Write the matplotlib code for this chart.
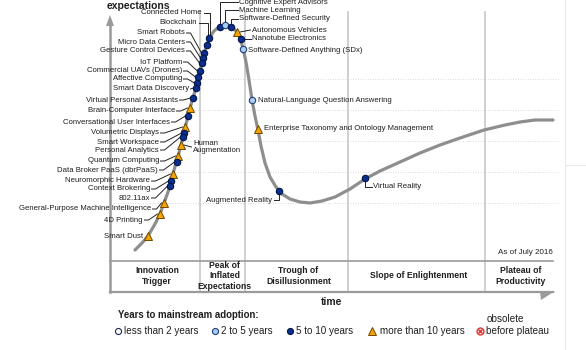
import matplotlib.pyplot as plt
from matplotlib.patches import Polygon

plt.rcParams['font.family'] = ['Liberation Sans', 'DejaVu Sans']

# Hype curve (pixel units, y grows downward)
curve_x = [135, 142, 148, 155, 160, 164, 168, 171, 174, 177, 180, 183, 186, 189,
           192, 195, 198, 201, 204, 207, 210, 214, 219, 225, 231, 236, 240, 243,
           246, 249, 252, 255, 258, 261, 265, 270, 276, 282, 290, 300, 310, 322,
           335, 350, 365, 380, 400, 420, 440, 460, 484, 505, 520, 535, 553]
curve_y = [250, 243, 236, 224, 214, 203, 192, 182, 170, 160, 149, 137, 124, 112,
           101, 91, 79, 67, 54, 44, 37, 31, 27, 25, 26, 31, 38, 48,
           62, 80, 100, 116, 130, 146, 163, 177, 187, 194, 199, 202, 203, 201,
           197, 189, 179, 171, 162, 153, 145, 138, 130, 125, 122, 120, 120]

# Technologies on the curve: name, years to mainstream adoption, position
tech_names = [
    'Connected Home', 'Blockchain', 'Smart Robots', 'Micro Data Centers',
    'Gesture Control Devices', 'IoT Platform', 'Commercial UAVs (Drones)',
    'Affective Computing', 'Smart Data Discovery', 'Virtual Personal Assistants',
    'Brain-Computer Interface', 'Conversational User Interfaces',
    'Volumetric Displays', 'Smart Workspace', 'Personal Analytics',
    'Human\nAugmentation', 'Quantum Computing', 'Data Broker PaaS (dbrPaaS)',
    'Neuromorphic Hardware', 'Context Brokering', '802.11ax',
    'General-Purpose Machine Intelligence', '4D Printing', 'Smart Dust',
    'Cognitive Expert Advisors', 'Machine Learning', 'Software-Defined Security',
    'Autonomous Vehicles', 'Nanotube Electronics', 'Software-Defined Anything (SDx)',
    'Natural-Language Question Answering',
    'Enterprise Taxonomy and Ontology Management', 'Augmented Reality',
    'Virtual Reality',
]
tech_class = [
    '5to10', '5to10', '5to10', '5to10', '5to10', '5to10', '5to10', '5to10',
    '5to10', '5to10', 'gt10', '5to10', 'gt10', '5to10', '5to10', 'gt10',
    'gt10', '5to10', 'gt10', '5to10', '5to10', 'gt10', 'gt10', 'gt10',
    '5to10', '2to5', '5to10', 'gt10', '5to10', '2to5', '2to5', 'gt10',
    '5to10', '5to10',
]
tech_x = [209, 207, 204, 203, 202, 200, 198, 197, 196, 193, 190, 188, 185, 184,
          183, 181, 178, 177, 173, 171, 170, 164, 160, 148, 220, 225, 231, 237,
          241, 243, 252, 258, 279, 365]
tech_y = [38, 45, 53, 58, 63, 71, 77, 83, 88, 98, 108, 116, 127, 133, 137, 145,
          156, 162, 174, 181, 186, 203, 214, 236, 27, 25, 27, 32, 39, 49, 100,
          129, 191, 178]

# Label layout: anchor x, anchor y, leader style
label_x = [202, 197, 185, 185, 185, 182, 182, 182, 189, 178, 175, 170, 159, 159,
           159, 193, 159, 158, 150, 150, 150, 151, 143, 143, 239, 239, 239, 252,
           252, 248, 258, 264, 272, 373]
label_y = [13, 23, 33, 42, 51, 62, 71, 79, 89, 100, 111, 122, 133, 142, 150, 147,
           161, 170, 181, 189, 198, 209, 220, 236, 2, 10, 18.5, 30, 39, 50, 100,
           129, 200, 187]
leader_style = ['v', 'v', 'h', 'h', 'h', 'h', 'h', 'h', 'h', 'h', 'h', 'h', 'h', 'h',
                'h', 'r', 'h', 'h', 'h', 'h', 'h', 'h', 'h', '', 'up', 'up', 'up', 'r',
                'r', '', '', '', 'ul', 'dr']

phase_names = ['Innovation\nTrigger', 'Peak of\nInflated\nExpectations',
               'Trough of\nDisillusionment', 'Slope of Enlightenment',
               'Plateau of\nProductivity']
phase_edges = [110, 200, 245, 348, 485, 553]
grid_y = [79, 110, 141, 172, 203]

legend_classes = ['lt2', '2to5', '5to10', 'gt10', 'obs']
legend_labels = ['less than 2 years', '2 to 5 years', '5 to 10 years',
                 'more than 10 years', 'before plateau']

TXT = '#1e1e1e'
GRAY = '#9a9a9a'
styles = {
    'lt2': dict(marker='o', ms=4.6, mfc='white', mec='#1a2a55', mew=0.8),
    '2to5': dict(marker='o', ms=4.6, mfc='#a9cdf2', mec='#1f3f7a', mew=0.8),
    '5to10': dict(marker='o', ms=4.6, mfc='#0b2f8e', mec='#001445', mew=0.8),
    'gt10': dict(marker='^', ms=5.8, mfc='#f5a300', mec='#6b4a00', mew=0.7),
}


def draw_leader(ax, style, tx, ty, mx, my):
    if style == 'h':
        if mx - 3 > tx + 6:
            pts = [(tx + 1.5, ty), (tx + 5.5, ty), (mx - 2.5, my)]
        else:
            pts = [(tx + 1.5, ty), (mx - 2.5, my)]
    elif style == 'v':
        pts = [(tx + 1.5, ty), (mx + 1, ty), (mx + 1, my - 3)]
    elif style == 'up':
        pts = [(mx, my - 3), (mx, ty), (tx - 1.5, ty)]
    elif style == 'r':
        pts = [(mx + 3, my), (tx - 1.5, ty)]
    elif style == 'dr':
        pts = [(mx, my + 3), (mx, ty), (tx - 1.5, ty)]
    elif style == 'ul':
        pts = [(tx + 1.5, ty), (mx, ty), (mx, my + 3)]
    else:
        return
    xs, ys = zip(*pts)
    ax.plot(xs, ys, color='#222222', lw=0.7, zorder=3)


fig = plt.figure(figsize=(5.86, 3.5), dpi=100)
ax = fig.add_axes([0, 0, 1, 1])
ax.set_xlim(0, 586)
ax.set_ylim(350, 0)
ax.axis('off')

# faint page edge on the right
ax.plot([565, 565], [0, 350], color='#ececec', lw=0.8)
ax.plot([565, 586], [165, 165], color='#ececec', lw=0.8)

# dotted guide lines and phase dividers
for gy in grid_y:
    ax.plot([110, 558], [gy, gy], color='#cfcfcf', lw=0.6, ls=(0, (1, 2)), zorder=0)
for px in phase_edges[1:-1]:
    ax.plot([px, px], [12, 292], color='#cccccc', lw=1.3, zorder=0)

# expectations axis
ax.plot([110, 110], [292, 24], color=GRAY, lw=1.8, zorder=1)
ax.add_patch(Polygon([(106, 26), (114, 26), (110, 15)], closed=True, color=GRAY, lw=0))
ax.text(107, 6, 'expectations', fontsize=7.5, fontweight='bold', color=TXT,
        ha='left', va='center')

# phase band and time axis
ax.plot([110, 553], [261, 261], color=GRAY, lw=1.2)
ax.plot([110, 553], [292, 292], color=GRAY, lw=1.6)
ax.add_patch(Polygon([(540, 292), (555, 291), (541, 300)], closed=True, color=GRAY, lw=0))
for i, name in enumerate(phase_names):
    cx = (phase_edges[i] + phase_edges[i + 1]) / 2
    ax.text(cx + 2, 276, name, fontsize=6.2, fontweight='bold', color=TXT,
            ha='center', va='center', linespacing=1.2)
ax.text(332, 302, 'time', fontsize=7.4, fontweight='bold', color=TXT,
        ha='center', va='center')
ax.text(553, 253, 'As of July 2016', fontsize=5.8, color=TXT, ha='right', va='center')

# the curve
ax.plot(curve_x, curve_y, color='#8e8e8e', lw=2.3, solid_capstyle='round', zorder=2)

# technologies
for i, name in enumerate(tech_names):
    mx, my = tech_x[i], tech_y[i]
    tx, ty = label_x[i], label_y[i]
    ax.plot([mx], [my], linestyle='none', zorder=4, **styles[tech_class[i]])
    ha = 'right' if tx < mx else 'left'
    ax.text(tx, ty, name, fontsize=5.6, color=TXT, ha=ha, va='center',
            linespacing=1.15, zorder=5)
    draw_leader(ax, leader_style[i], tx, ty, mx, my)

# legend
ax.text(118, 315, 'Years to mainstream adoption:', fontsize=6.9, fontweight='bold',
        color=TXT, ha='left', va='center')
legend_x = [118, 215, 290, 372, 480]
for cls, lab, lx in zip(legend_classes, legend_labels, legend_x):
    if cls == 'obs':
        ax.plot([lx], [331], marker='o', ms=5, mfc='#fbe3e3', mec='#e03a3a', mew=1.0)
        ax.plot([lx], [331], marker='x', ms=3, mec='#e03a3a', mew=1.0)
        ax.text(lx + 7, 319, 'obsolete', fontsize=7.1, color=TXT, ha='left', va='center')
    else:
        st = dict(styles[cls])
        st['ms'] = st['ms'] * 0.95
        ax.plot([lx], [331], linestyle='none', **st)
    ax.text(lx + 6 if cls != 'gt10' else lx + 8, 331, lab, fontsize=7.1, color=TXT,
            ha='left', va='center')

fig.savefig('out.png', dpi=100)
